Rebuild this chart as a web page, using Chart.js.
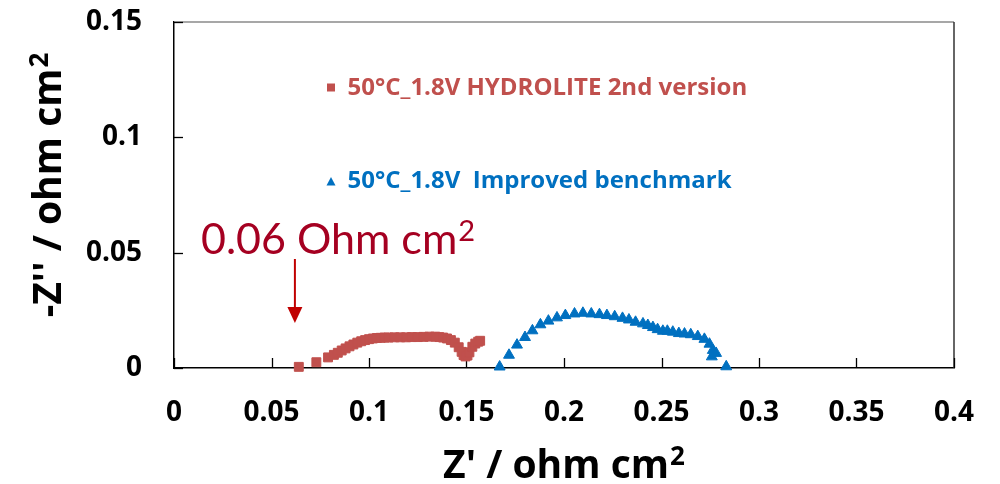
<!DOCTYPE html>
<html><head><meta charset="utf-8">
<script src="https://cdn.jsdelivr.net/npm/chart.js@4"></script>
<style>html,body{margin:0;padding:0;background:#fff;overflow:hidden}</style>
</head><body>
<canvas id="c" width="1000" height="484"></canvas>
<script>
const hydroliteX = [0.064,0.073,0.079,0.082,0.084,0.086,0.088,0.090,0.092,0.094,0.096,0.098,0.100,0.102,0.104,0.106,0.108,0.110,0.113,0.116,0.119,0.122,0.125,0.128,0.131,0.134,0.136,0.138,0.140,0.142,0.144,0.146,0.1475,0.1485,0.1495,0.1505,0.1515,0.153,0.1545,0.156,0.157];
const hydroliteY = [0.0005,0.0025,0.0046,0.0057,0.0066,0.0076,0.0085,0.0094,0.0102,0.0110,0.0116,0.0121,0.0125,0.0128,0.0130,0.0131,0.0132,0.0132,0.0133,0.0133,0.0133,0.0134,0.0134,0.0135,0.0136,0.0136,0.0134,0.0132,0.0128,0.0121,0.0110,0.0090,0.0070,0.0056,0.0050,0.0054,0.0068,0.0092,0.0106,0.0114,0.0118];
const benchX = [0.167,0.1718,0.1759,0.180,0.1838,0.1879,0.192,0.1964,0.2007,0.2054,0.2097,0.214,0.2182,0.222,0.226,0.230,0.2333,0.2367,0.2405,0.243,0.2456,0.248,0.2507,0.253,0.2558,0.2589,0.2618,0.265,0.2686,0.272,0.2746,0.2763,0.278,0.2758,0.2832];
const benchY = [0.0005,0.0056,0.0100,0.0133,0.0162,0.0188,0.0204,0.0218,0.0228,0.0235,0.0238,0.0235,0.0232,0.0228,0.0223,0.0216,0.0209,0.0199,0.0192,0.0185,0.0176,0.0167,0.0160,0.0160,0.0156,0.0150,0.0148,0.0145,0.0137,0.0125,0.0104,0.0077,0.0064,0.0049,0.0006];
const xTickValues = [0,0.05,0.1,0.15,0.2,0.25,0.3,0.35,0.4];
const xTickLabels = ['0','0.05','0.1','0.15','0.2','0.25','0.3','0.35','0.4'];
const yTickValues = [0,0.05,0.1,0.15];
const yTickLabels = ['0','0.05','0.1','0.15'];
const seriesLabels = ['50°C_1.8V HYDROLITE 2nd version','50°C_1.8V  Improved benchmark'];
const seriesColors = ['#C0504D','#0070C0'];
const xTitle = ["Z' / ohm cm", '2'];
const yTitle = ["-Z'' / ohm cm", '2'];
const annotationText = ['0.06 Ohm cm', '2'];
const annotationX = 0.062;

const toPts = (xs, ys) => xs.map((x, i) => ({x: x, y: ys[i]}));

function supText(ctx, parts, x, y, mainFont, supFont, supRise, align) {
  ctx.font = mainFont;
  const w1 = ctx.measureText(parts[0]).width;
  ctx.font = supFont;
  const w2 = ctx.measureText(parts[1]).width;
  const total = w1 + 1 + w2;
  let sx = align === 'center' ? x - total / 2 : x;
  ctx.textBaseline = 'alphabetic';
  ctx.textAlign = 'left';
  ctx.font = mainFont;
  ctx.fillText(parts[0], sx, y);
  ctx.font = supFont;
  ctx.fillText(parts[1], sx + w1 + 1, y - supRise);
}

const overlay = {
  id: 'overlay',
  beforeDatasetsDraw(chart) {
    const ctx = chart.ctx, a = chart.chartArea;
    const xs = chart.scales.x, ys = chart.scales.y;
    ctx.save();
    ctx.lineWidth = 1.5;
    ctx.strokeStyle = '#8a8a8a';
    ctx.beginPath(); ctx.moveTo(a.left, a.top); ctx.lineTo(a.right, a.top); ctx.stroke();
    ctx.strokeStyle = '#333';
    ctx.beginPath(); ctx.moveTo(a.right, a.top); ctx.lineTo(a.right, a.bottom); ctx.stroke();
    ctx.strokeStyle = '#000';
    ctx.lineWidth = 1.3;
    xTickValues.forEach(v => {
      const px = Math.round(xs.getPixelForValue(v)) + 0.5;
      ctx.beginPath(); ctx.moveTo(px, a.bottom); ctx.lineTo(px, a.bottom - 10); ctx.stroke();
    });
    yTickValues.forEach(v => {
      const py = Math.round(ys.getPixelForValue(v)) + 0.5;
      ctx.beginPath(); ctx.moveTo(a.left, py); ctx.lineTo(a.left + 9, py); ctx.stroke();
    });
    ctx.restore();
  },
  afterDraw(chart) {
    const ctx = chart.ctx, a = chart.chartArea;
    const xs = chart.scales.x;
    ctx.save();
    chart.data.datasets.forEach((ds, i) => {
      const cy = i === 0 ? 87.5 : 182;
      const base = i === 0 ? 95 : 188.3;
      ctx.fillStyle = seriesColors[i];
      ctx.beginPath();
      if (i === 0) { ctx.rect(327, cy - 4, 8, 8); }
      else { ctx.moveTo(331, cy - 5); ctx.lineTo(335.5, cy + 3.5); ctx.lineTo(326.5, cy + 3.5); ctx.closePath(); }
      ctx.fill();
      ctx.font = 'bold 24px "Open Sans"';
      ctx.textAlign = 'left';
      ctx.textBaseline = 'alphabetic';
      ctx.fillText(ds.label, 347.5, base);
    });
    ctx.fillStyle = '#A50021';
    supText(ctx, annotationText, 201, 253.5, '43px Lato', '29px Lato', 13, 'left');
    const ax = xs.getPixelForValue(annotationX);
    ctx.strokeStyle = '#C00000';
    ctx.fillStyle = '#C00000';
    ctx.lineWidth = 2;
    ctx.beginPath(); ctx.moveTo(ax, 259); ctx.lineTo(ax, 309); ctx.stroke();
    ctx.beginPath(); ctx.moveTo(ax - 7.5, 307); ctx.lineTo(ax + 7.5, 307); ctx.lineTo(ax, 323); ctx.closePath(); ctx.fill();
    ctx.fillStyle = '#000';
    supText(ctx, xTitle, (a.left + a.right) / 2, 478, 'bold 39px "Open Sans"', 'bold 26px "Open Sans"', 13, 'center');
    ctx.translate(61, 185);
    ctx.rotate(-Math.PI / 2);
    supText(ctx, yTitle, 0, 0, 'bold 39px "Open Sans"', 'bold 26px "Open Sans"', 13, 'center');
    ctx.restore();
  }
};

new Chart(document.getElementById('c').getContext('2d'), {
  type: 'scatter',
  data: {
    datasets: [
      {label: seriesLabels[0], data: toPts(hydroliteX, hydroliteY), pointStyle: 'rect', pointRadius: 6.3, pointHoverRadius: 6.3,
       backgroundColor: seriesColors[0], borderColor: seriesColors[0], borderWidth: 1, clip: false},
      {label: seriesLabels[1], data: toPts(benchX, benchY), pointStyle: 'triangle', pointRadius: 6.3, pointHoverRadius: 6.3,
       backgroundColor: seriesColors[1], borderColor: seriesColors[1], borderWidth: 1, clip: false}
    ]
  },
  options: {
    responsive: false, animation: false, devicePixelRatio: 1,
    layout: {padding: {top: 22, right: 46, left: 0, bottom: 0}},
    plugins: {legend: {display: false}, tooltip: {enabled: false}},
    scales: {
      x: {
        type: 'linear', min: 0, max: 0.4,
        afterBuildTicks: s => { s.ticks = xTickValues.map(v => ({value: v})); },
        afterFit: s => { s.height = 116; s.paddingLeft = 0; s.paddingRight = 0; },
        ticks: {callback: (v, i) => xTickLabels[i], font: {family: 'Open Sans', size: 28, weight: 'bold'}, color: '#000', padding: 28, maxRotation: 0, autoSkip: false},
        grid: {drawOnChartArea: false, drawTicks: false},
        border: {display: true, color: '#000', width: 1.5}
      },
      y: {
        type: 'linear', min: 0, max: 0.15,
        afterBuildTicks: s => { s.ticks = yTickValues.map(v => ({value: v})); },
        afterFit: s => { s.width = 174; s.paddingTop = 0; s.paddingBottom = 0; },
        ticks: {callback: (v, i) => yTickLabels[i], font: {family: 'Open Sans', size: 28, weight: 'bold'}, color: '#000', padding: 32, autoSkip: false},
        grid: {drawOnChartArea: false, drawTicks: false},
        border: {display: true, color: '#000', width: 1.5}
      }
    }
  },
  plugins: [overlay]
});
</script>
</body></html>
